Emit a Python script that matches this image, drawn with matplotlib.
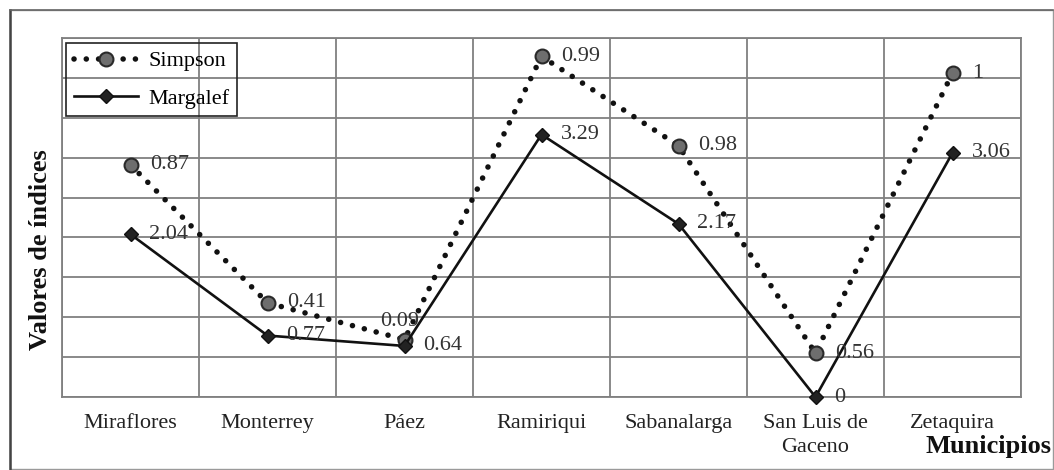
import matplotlib
matplotlib.use('Agg')
import matplotlib.pyplot as plt
from matplotlib.patches import Rectangle
from matplotlib.lines import Line2D

municipios = ['Miraflores', 'Monterrey', 'Páez', 'Ramiriqui', 'Sabanalarga',
              'San Luis de\nGaceno', 'Zetaquira']
simpson = [0.87, 0.41, 0.09, 0.99, 0.98, 0.56, 1]
margalef = [2.04, 0.77, 0.64, 3.29, 2.17, 0, 3.06]
# where the Simpson points sit on the chart's (unlabelled) vertical scale
simpson_pos = [2.91, 1.18, 0.72, 4.27, 3.15, 0.55, 4.06]

plt.rcParams['font.family'] = ['Liberation Serif', 'DejaVu Serif']

fig = plt.figure(figsize=(10.54, 4.70), dpi=100)
ax = fig.add_axes([62/1054, 73/470, 959/1054, 359/470])

x = list(range(len(municipios)))

ax.plot(x, simpson_pos, color='#111111', lw=4, linestyle=(0, (0.01, 2.2)),
        dash_capstyle='round', marker='o', markersize=10,
        markerfacecolor='#6e6e6e', markeredgecolor='#2a2a2a', markeredgewidth=1.5,
        label='Simpson', clip_on=False, zorder=3)
ax.plot(x, margalef, color='#111111', lw=1.9, marker='D', markersize=7,
        markerfacecolor='#222222', markeredgecolor='#111111',
        label='Margalef', clip_on=False, zorder=3)

for i, v in enumerate(simpson):
    if i == 2:
        ax.annotate(str(v), (i, simpson_pos[i]), xytext=(-5, 18),
                    textcoords='offset pixels', ha='center', va='center',
                    fontsize=16, color='#333333')
    else:
        ax.annotate(str(v), (i, simpson_pos[i]), xytext=(20, 0),
                    textcoords='offset pixels', ha='left', va='center',
                    fontsize=16, color='#333333')
for i, v in enumerate(margalef):
    ax.annotate(str(v), (i, v), xytext=(19, 0),
                textcoords='offset pixels', ha='left', va='center',
                fontsize=16, color='#333333')

ax.set_xlim(-0.5, 6.5)
ax.set_ylim(0, 4.5)
ax.set_yticks([i * 0.5 for i in range(10)])
ax.set_yticklabels([])
ax.set_xticks(x)
ax.set_xticklabels(municipios, fontsize=16, color='#222222', linespacing=1.4)
ax.set_xticks([i - 0.5 for i in range(8)], minor=True)
ax.tick_params(axis='both', which='both', length=0)
ax.tick_params(axis='x', pad=12)
ax.grid(True, axis='y', which='major', color='#808080', lw=1.3)
ax.grid(True, axis='x', which='minor', color='#808080', lw=1.3)
ax.set_axisbelow(True)
for s in ax.spines.values():
    s.set_color('#808080')
    s.set_linewidth(1.3)

leg = ax.legend(loc='upper left', bbox_to_anchor=(0.004, 0.986), fontsize=16,
                handlelength=2.9, labelspacing=0.75, borderpad=0.35,
                borderaxespad=0, handletextpad=0.45, fancybox=False, framealpha=1)
leg.get_frame().set_facecolor('none')
leg.get_frame().set_edgecolor('#222222')
leg.get_frame().set_linewidth(1.2)

fig.text(41/1054, 220/470, 'Valores de índices', rotation=90, fontsize=19,
         fontweight='bold', ha='center', va='center', color='#111111')
fig.text(1051/1054, 23/470, 'Municipios', fontsize=19, fontweight='bold',
         ha='right', va='center', color='#111111')

# outer chart-area border
fig.patches.append(Rectangle((10/1054, 1/470), 1043/1054, 459/470,
                             transform=fig.transFigure, fill=False,
                             edgecolor='#9a9a9a', lw=1))
fig.lines.append(Line2D([10/1054, 10/1054], [1/470, 460/470],
                        transform=fig.transFigure, color='#444444', lw=1.8))
fig.lines.append(Line2D([10/1054, 1053/1054], [460/470, 460/470],
                        transform=fig.transFigure, color='#666666', lw=1.2))

fig.savefig('out.png', dpi=100)
